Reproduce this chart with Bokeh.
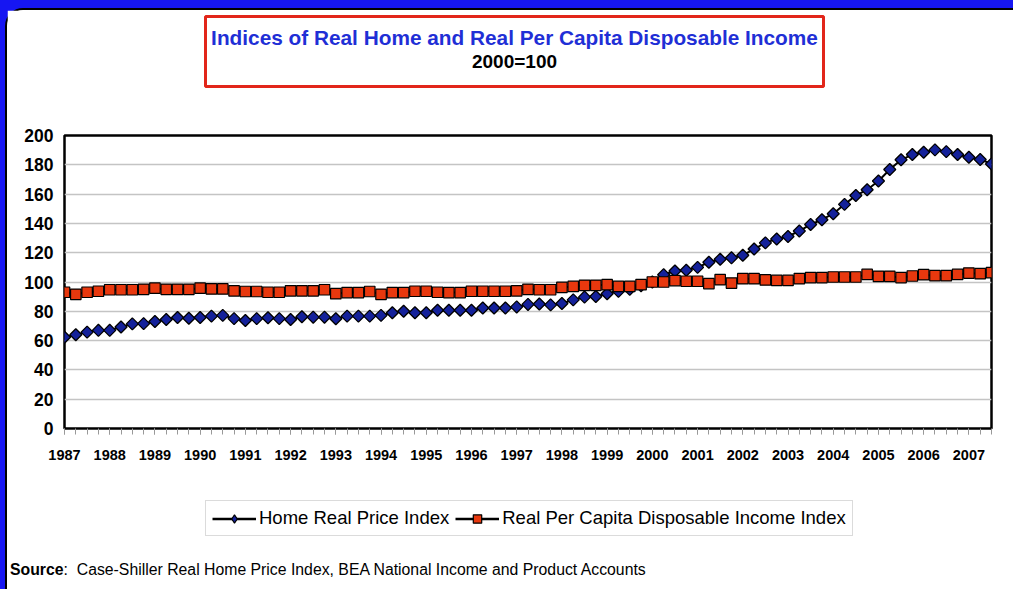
from bokeh.plotting import figure
from bokeh.layouts import column
from bokeh.models import Range1d, FixedTicker, Legend, LegendItem, Div
from bokeh.core.properties import value
from bokeh.embed import file_html
from bokeh.resources import INLINE
import numpy as np

# ---- data (quarterly, 1987Q1 .. 2007Q3) ----
years = [str(y) for y in range(1987, 2008)]
home = [62.3, 64.0, 65.8, 67.0, 67.0, 69.3, 71.4, 71.6, 73.0, 74.4, 75.8, 75.3,
        75.8, 76.7, 77.2, 75.0, 73.7, 75.0, 75.6, 75.0, 74.4, 76.3, 76.0, 76.0,
        74.9, 76.7, 76.7, 76.7, 77.2, 79.0, 80.0, 79.0, 79.0, 80.7, 80.7, 80.7,
        80.7, 82.3, 82.3, 82.3, 83.0, 84.7, 85.0, 84.4, 85.3, 87.8, 89.7, 90.1,
        92.0, 93.6, 95.0, 97.5, 100.0, 105.0, 107.5, 108.0, 110.0, 113.5, 115.5, 116.5,
        118.3, 122.5, 126.7, 129.4, 131.1, 134.8, 139.3, 142.5, 146.6, 153.0, 159.0, 163.0,
        168.9, 176.8, 183.4, 187.0, 188.6, 190.2, 189.0, 187.0, 185.2, 183.6, 180.6]
income = [93.0, 91.6, 93.0, 93.7, 94.7, 94.7, 94.7, 95.0, 95.8, 95.0, 95.0, 95.0,
          95.8, 95.3, 95.3, 94.0, 93.5, 93.5, 93.0, 93.0, 94.0, 94.0, 94.0, 94.7,
          92.0, 92.8, 92.8, 93.5, 91.6, 92.8, 92.8, 93.7, 93.7, 93.0, 92.8, 92.8,
          93.7, 93.7, 93.7, 93.7, 94.0, 95.0, 94.7, 94.7, 96.3, 97.0, 97.7, 97.7,
          98.2, 97.0, 97.0, 98.2, 100.0, 100.0, 101.0, 100.5, 100.5, 98.9, 101.6, 99.3,
          102.3, 102.3, 101.4, 101.1, 101.1, 102.3, 103.0, 103.0, 103.4, 103.4, 103.4, 105.2,
          103.9, 103.9, 103.0, 104.1, 105.0, 104.3, 104.3, 105.2, 106.1, 105.7, 106.4]
y_ticks = list(range(0, 201, 20))
quarters = list(range(len(home)))

title_text = "Indices of Real Home and Real Per Capita Disposable Income"
subtitle_text = "2000=100"
series_names = ["Home Real Price Index", "Real Per Capita Disposable Income Index"]
source_bold = "Source"
source_rest = ":&nbsp; Case-Shiller Real Home Price Index, BEA National Income and Product Accounts"

FONT = "Liberation Sans"
BLUE_FRAME = "#1616f2"

# page geometry (children start at x=7, y=10 inside the framed panel)
W = 1005
H_TOP, H_MAIN, H_LEG, H_SRC = 98, 362, 80, 38
FRAME_L, FRAME_R = 64, 991          # page x of plot area edges
TOP_Y0 = 10                         # page y where the top strip starts

HOME_STYLE = dict(marker="square", angle=np.pi / 4, size=8.5,
                  fill_color="#14219a", line_color="black", line_width=1.3)
HOME_LEG_STYLE = dict(marker="diamond", size=13,
                      fill_color="#14219a", line_color="black", line_width=1.2)
INC_STYLE = dict(marker="square", size=10.5,
                 fill_color="#e8380e", line_color="black", line_width=1.2)
LEFT_BORDER = FRAME_L - 7
RIGHT_BORDER = 7 + W - FRAME_R


def strip_fig(h, y0):
    f = figure(width=W, height=h, output_backend="svg", toolbar_location=None,
               x_range=Range1d(FRAME_L, FRAME_R), y_range=Range1d(y0 + h, y0),
               x_axis_type=None, y_axis_type=None,
               min_border_left=LEFT_BORDER, min_border_right=RIGHT_BORDER,
               min_border_top=0, min_border_bottom=0,
               background_fill_color="white", border_fill_color="white")
    f.outline_line_color = None
    f.xgrid.visible = False
    f.ygrid.visible = False
    return f


# ---------------- top: title box ----------------
top = strip_fig(H_TOP, TOP_Y0)
top.quad(left=205, right=823, top=16, bottom=86, fill_color="white",
         line_color="#e2261a", line_width=3)
top.text(x=[514], y=[37], text=[title_text], text_align="center", text_baseline="middle",
         text_font=value(FONT), text_font_style="bold", text_font_size="20.8px",
         text_color="#1f2fd6")
top.text(x=[514], y=[61], text=[subtitle_text], text_align="center", text_baseline="middle",
         text_font=value(FONT), text_font_style="bold", text_font_size="19px",
         text_color="black")

# ---------------- main chart ----------------
p = figure(width=W, height=H_MAIN, output_backend="svg", toolbar_location=None,
           x_range=Range1d(0, len(home) - 1), y_range=Range1d(0, 200),
           min_border_left=LEFT_BORDER, min_border_right=RIGHT_BORDER,
           min_border_top=27, min_border_bottom=42,
           background_fill_color="white", border_fill_color="white")
p.outline_line_color = "black"
p.outline_line_width = 2.5

p.xaxis.ticker = FixedTicker(ticks=quarters[::4], minor_ticks=quarters)
p.xaxis.major_label_overrides = {q: years[i] for i, q in enumerate(quarters[::4])}
p.xaxis.axis_line_color = None
p.xaxis.major_tick_in = 0
p.xaxis.major_tick_out = 6
p.xaxis.minor_tick_in = 0
p.xaxis.minor_tick_out = 6
p.xaxis.major_tick_line_color = "#999999"
p.xaxis.minor_tick_line_color = "#999999"
p.xaxis.major_label_text_font = FONT
p.xaxis.major_label_text_font_style = "bold"
p.xaxis.major_label_text_font_size = "14.5px"
p.xaxis.major_label_text_color = "black"
p.xaxis.major_label_standoff = 15

p.yaxis.ticker = FixedTicker(ticks=y_ticks, minor_ticks=[])
p.yaxis.axis_line_color = None
p.yaxis.major_tick_line_color = None
p.yaxis.major_tick_out = 0
p.yaxis.major_tick_in = 0
p.yaxis.major_label_text_font = FONT
p.yaxis.major_label_text_font_style = "bold"
p.yaxis.major_label_text_font_size = "17.5px"
p.yaxis.major_label_text_color = "black"
p.yaxis.major_label_standoff = 11

p.xgrid.visible = False
p.ygrid.grid_line_color = "#c4c4c4"
p.ygrid.grid_line_width = 1.5

p.line(quarters, home, line_color="black", line_width=2)
p.scatter(quarters, home, **HOME_STYLE)
p.line(quarters, income, line_color="black", line_width=2)
p.scatter(quarters, income, **INC_STYLE)

# ---------------- legend strip ----------------
leg = strip_fig(H_LEG, TOP_Y0 + H_TOP + H_MAIN)
# same series drawn outside the visible window, only to feed the legend glyphs
bl1 = leg.line(quarters, home, line_color="black", line_width=2.5)
bm1 = leg.scatter(quarters, home, **HOME_LEG_STYLE)
bl2 = leg.line(quarters, income, line_color="black", line_width=2.5)
bm2 = leg.scatter(quarters, income, **INC_STYLE)
legend = Legend(items=[LegendItem(label=series_names[0], renderers=[bl1, bm1]),
                       LegendItem(label=series_names[1], renderers=[bl2, bm2])],
                orientation="horizontal", location=(205 - FRAME_L, 14),
                glyph_width=44, glyph_height=21, label_standoff=3, spacing=6,
                padding=6, margin=0,
                label_text_font=FONT, label_text_font_size="18.5px",
                label_text_color="black",
                border_line_color="#b8b8b8", border_line_width=1.2,
                background_fill_color="white")
leg.add_layout(legend)

# ---------------- source line ----------------
src = Div(width=W, height=H_SRC,
          text=('<div style="font-family:\'Liberation Sans\',sans-serif;font-size:15.8px;'
                'color:black;margin:0 0 0 -2px;padding:6px 0 0 0;line-height:18px;white-space:nowrap;">'
                f'<b>{source_bold}</b>{source_rest}</div>'))

inner = column(top, p, leg, src, spacing=0,
               styles={"border-left": "2px solid black", "border-top": "2px solid black",
                       "border-top-left-radius": "18px", "background-color": "white"})
layout = column(inner, spacing=0,
                styles={"border-left": "5px solid " + BLUE_FRAME,
                        "border-top": "8px solid " + BLUE_FRAME,
                        "background-color": BLUE_FRAME})

open("out.html", "w").write(file_html(layout, INLINE))
